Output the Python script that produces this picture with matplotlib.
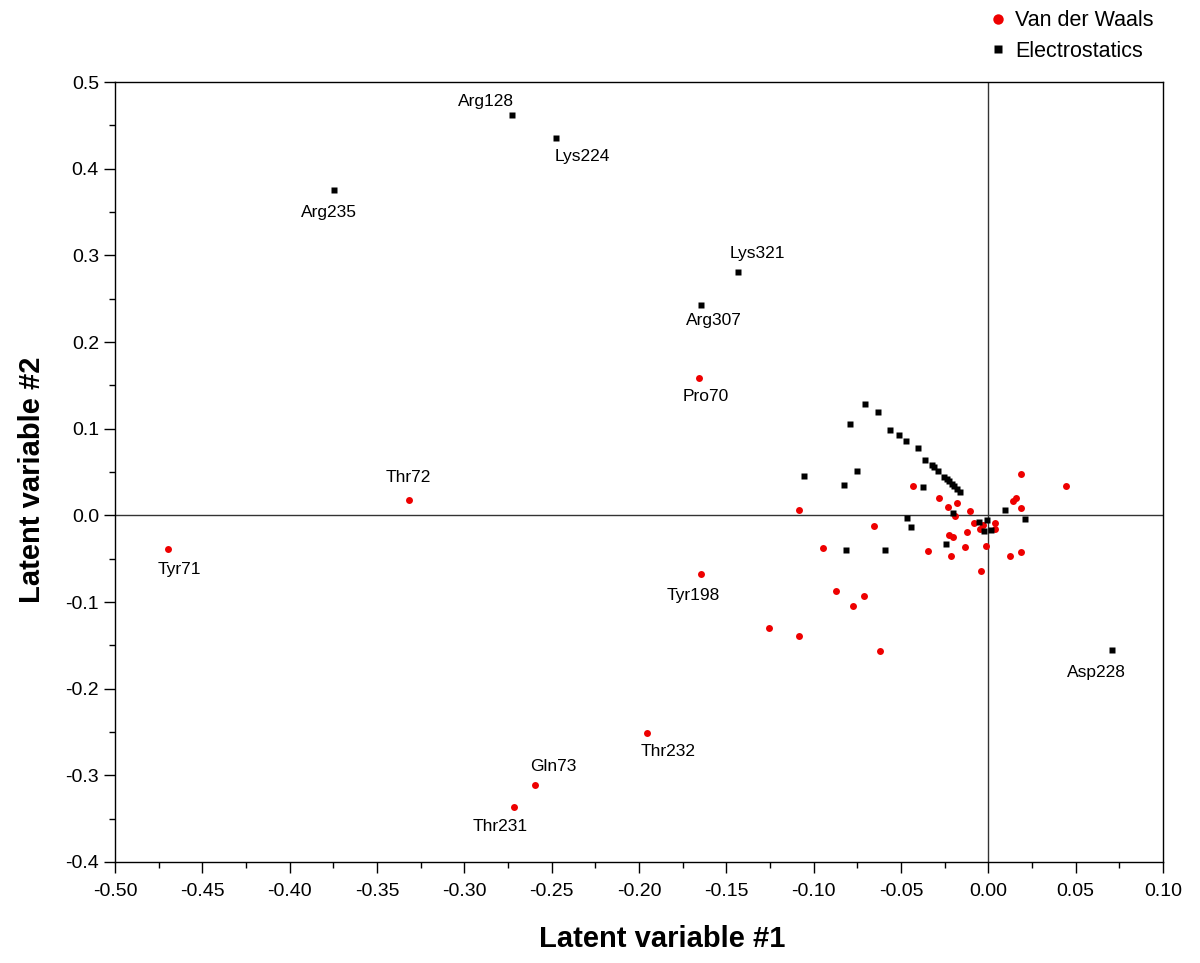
import matplotlib
matplotlib.use("Agg")
import matplotlib.pyplot as plt
from matplotlib.ticker import MultipleLocator, FormatStrFormatter

# Van der Waals points (red)
vdw_x = [-0.1655, -0.3317, -0.4697, -0.1645, -0.1954, -0.2595, -0.2716,
         -0.0872, -0.0712, -0.0773, -0.1254, -0.1084, -0.0622,
         0.0187, 0.0447, -0.0433, 0.0158, 0.0139, 0.0187, -0.0283, -0.0181,
         -0.0233, -0.0103, -0.1084, -0.0193, -0.0084, 0.0036, -0.0030, -0.0046,
         0.0038, -0.0653, -0.0122, -0.0225, -0.0202, -0.0945, -0.0343, -0.0132,
         -0.0013, -0.0214, 0.0126, 0.0187, -0.0044]
vdw_y = [0.1589, 0.0173, -0.0389, -0.0677, -0.2508, -0.3112, -0.3362,
         -0.0869, -0.0935, -0.1046, -0.1300, -0.1396, -0.1569,
         0.0477, 0.0342, 0.0342, 0.0196, 0.0169, 0.0085, 0.0196, 0.0142,
         0.0092, 0.0054, 0.0065, -0.0008, -0.0088, -0.0085, -0.0108, -0.0154,
         -0.0158, -0.0127, -0.0188, -0.0227, -0.0250, -0.0377, -0.0408, -0.0369,
         -0.0358, -0.0465, -0.0469, -0.0427, -0.0638]
vdw_names = ["Pro70", "Thr72", "Tyr71", "Tyr198", "Thr232", "Gln73", "Thr231"]

# Electrostatics points (black)
ele_x = [-0.2727, -0.2473, -0.3748, -0.1435, -0.1645, 0.0706,
         -0.0704, -0.0634, -0.0794, -0.0563, -0.0513, -0.0473, -0.0405, -0.0363,
         -0.0321, -0.0311, -0.0285, -0.0254, -0.0237, -0.0223, -0.0208, -0.0195,
         -0.0179, -0.0164, -0.1053, -0.0754, -0.0824, -0.0374, -0.0204, -0.0464,
         -0.0443, 0.0097, 0.0208, -0.0010, -0.0052, -0.0023, 0.0017, -0.0244,
         -0.0813, -0.0594]
ele_y = [0.4623, 0.4358, 0.3758, 0.2812, 0.2427, -0.1550,
         0.1290, 0.1190, 0.1050, 0.0985, 0.0927, 0.0861, 0.0773, 0.0642,
         0.0577, 0.0557, 0.0511, 0.0446, 0.0419, 0.0392, 0.0361, 0.0335,
         0.0308, 0.0269, 0.0454, 0.0515, 0.0346, 0.0323, 0.0023, -0.0027,
         -0.0135, 0.0058, -0.0046, -0.0050, -0.0073, -0.0185, -0.0173, -0.0335,
         -0.0396, -0.0396]
ele_names = ["Arg128", "Lys224", "Arg235", "Lys321", "Arg307", "Asp228"]

# label offsets in points
vdw_offsets = [(5, -13.7), (-0.7, 16.6), (8.6, -14.4), (-5.8, -15.8),
               (15, -13.7), (13, 13), (-10, -14.4)]
ele_offsets = [(-18.7, 9.4), (18.7, -13.7), (-3.6, -16.6), (14.4, 13),
               (9.4, -10.8), (-10.8, -16.6)]

plt.rcParams["font.family"] = ["Liberation Sans", "DejaVu Sans"]
plt.rcParams["axes.unicode_minus"] = False

fig = plt.figure(figsize=(12, 9.63), dpi=100)
ax = fig.add_axes([0.0958, 0.1049, 0.8733, 0.8099])

ax.axhline(0, color="#333333", lw=1.0, zorder=1)
ax.axvline(0, color="#333333", lw=1.0, zorder=1)

ax.plot(vdw_x, vdw_y, "o", color="#ee0000", ms=5, mec="none",
        label="Van der Waals", zorder=3)
ax.plot(ele_x, ele_y, "s", color="black", ms=4.3, mec="none",
        label="Electrostatics", zorder=3)

for i, name in enumerate(vdw_names):
    ax.annotate(name, (vdw_x[i], vdw_y[i]), xytext=vdw_offsets[i],
                textcoords="offset points", ha="center", va="center", fontsize=12.5)
for i, name in enumerate(ele_names):
    ax.annotate(name, (ele_x[i], ele_y[i]), xytext=ele_offsets[i],
                textcoords="offset points", ha="center", va="center", fontsize=12.5)

ax.set_xlim(-0.5, 0.1)
ax.set_ylim(-0.4, 0.5)
ax.xaxis.set_major_locator(MultipleLocator(0.05))
ax.xaxis.set_minor_locator(MultipleLocator(0.025))
ax.yaxis.set_major_locator(MultipleLocator(0.1))
ax.yaxis.set_minor_locator(MultipleLocator(0.05))
ax.xaxis.set_major_formatter(FormatStrFormatter("%.2f"))
ax.yaxis.set_major_formatter(FormatStrFormatter("%.1f"))
ax.tick_params(which="major", direction="out", length=8, width=1, labelsize=14)
ax.tick_params(which="minor", direction="out", length=4.5, width=1)
ax.tick_params(axis="x", pad=7)

for sp in ax.spines.values():
    sp.set_linewidth(1.0)

ax.set_xlabel("Latent variable #1", fontsize=21, fontweight="bold")
ax.set_ylabel("Latent variable #2", fontsize=21, fontweight="bold")
ax.xaxis.set_label_coords(0.522, -0.081)
ax.yaxis.set_label_coords(-0.066, 0.49)

fig.legend(loc="upper left", bbox_to_anchor=(0.81, 1.005), frameon=False,
           fontsize=15.5, handletextpad=0.3, labelspacing=0.45, borderaxespad=0.3,
           handlelength=1.0, markerscale=1.5)

fig.savefig("out.png", dpi=100)
